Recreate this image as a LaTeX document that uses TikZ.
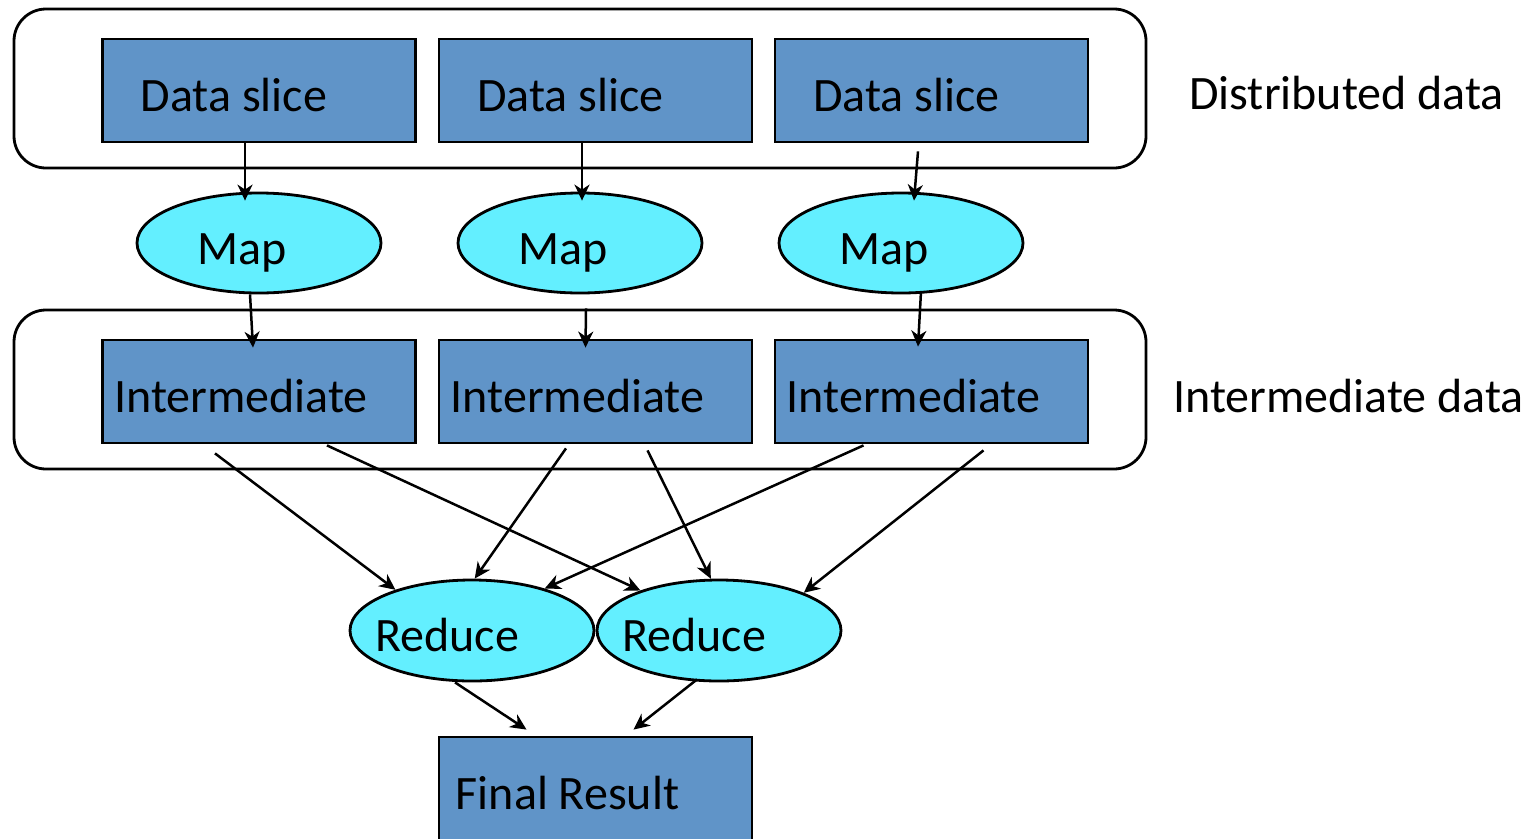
\documentclass[tikz,border=0pt]{standalone}
\usepackage{fontspec}
\setmainfont{Carlito}
\usepackage{xcolor}
\usetikzlibrary{positioning, arrows.meta, shapes.geometric}
\definecolor{sliceblue}{HTML}{6094C8}
\definecolor{taskcyan}{HTML}{63EFFF}

\tikzset{
  every node/.style={font=\fontsize{48}{58}\selectfont, text height=42pt, text depth=0pt},
  shove/.style={execute at begin node={\hspace*{-#1}}, execute at end node={\hspace*{#1}}},
  group/.style={draw, line width=2.8pt, rounded corners=32pt,
        minimum width=1132pt, minimum height=159pt},
  slice/.style={draw, fill=sliceblue, line width=2.8pt,
        minimum width=313pt, minimum height=103pt},
  task/.style={ellipse, draw, fill=taskcyan, line width=2.8pt,
        minimum width=244pt, minimum height=100pt, inner sep=0pt},
  flow/.style={-{Stealth[length=16pt, width=15pt, inset=5pt]}, line width=2.5pt},
  side/.style={anchor=base west, inner sep=0pt}
}

\begin{document}
\begin{tikzpicture}[x=1pt, y=-1pt]
  \useasboundingbox (0,0) rectangle (1538,838);

  \node[group] (distbox) at (580,88.5) {};
  \node[group] (interbox) at (580,389.5) {};

  \node[slice, shove=25pt] (ds1) at (259,90.5) {Data slice};
  \node[slice, shove=25pt] (ds2) at (595.5,90.5) {Data slice};
  \node[slice, shove=25pt] (ds3) at (931.5,90.5) {Data slice};

  \node[task, shove=17pt] (map1) at (259,243) {Map};
  \node[task, shove=17pt] (map2) at (580,243) {Map};
  \node[task, shove=17pt] (map3) at (901,243) {Map};

  \node[slice, shove=18pt] (int1) at (259,391.5) {Intermediate};
  \node[slice, shove=18pt] (int2) at (595.5,391.5) {Intermediate};
  \node[slice, shove=18pt] (int3) at (931.5,391.5) {Intermediate};

  \node[task, shove=25pt, minimum height=101pt] (red1) at (472,630.5) {Reduce};
  \node[task, shove=25pt, minimum height=101pt] (red2) at (719,630.5) {Reduce};

  \node[slice, shove=28pt] (final) at (595.5,788.5) {Final Result};

  \node[side] (distlabel) at (1189,109) {Distributed data};
  \node[side] (interlabel) at (1173,412) {Intermediate data};

  % slices to map
  \draw[flow] ([xshift=-14pt]ds1.south) -- ([xshift=-14pt, yshift=-9pt]map1.north);
  \draw[flow] ([xshift=-13.5pt]ds2.south) -- ([xshift=2pt, yshift=-9pt]map2.north);
  \draw[flow] ([xshift=-13.5pt, yshift=-8pt]ds3.south) -- ([xshift=13pt, yshift=-9pt]map3.north);

  % map to intermediate
  \draw[flow] ([xshift=-9pt]map1.south) -- ([xshift=-6pt, yshift=-9pt]int1.north);
  \draw[flow] ([xshift=6pt, yshift=-14pt]map2.south) -- ([xshift=-10pt, yshift=-9pt]int2.north);
  \draw[flow] ([xshift=20pt, yshift=3pt]map3.south) -- ([xshift=-13.5pt, yshift=-8pt]int3.north);

  % intermediate to reduce
  \draw[flow] ([xshift=-44pt, yshift=-9pt]int1.south) -- (red1.152);
  \draw[flow] ([xshift=68pt, yshift=-1pt]int1.south) -- (red2.153);
  \draw[flow] ([xshift=-29.5pt, yshift=-4pt]int2.south) -- (red1.87);
  \draw[flow] ([xshift=52pt, yshift=-6pt]int2.south) -- (red2.99);
  \draw[flow] ([xshift=-68pt, yshift=-1pt]int3.south) -- (red1.30);
  \draw[flow] ([xshift=52pt, yshift=-6pt]int3.south) -- (red2.24);

  % reduce to result
  \draw[flow] ([xshift=-17pt]red1.south) -- ([xshift=-69pt, yshift=6pt]final.north);
  \draw[flow] ([xshift=-22pt, yshift=3pt]red2.south) -- ([xshift=38pt, yshift=6pt]final.north);
\end{tikzpicture}
\end{document}
